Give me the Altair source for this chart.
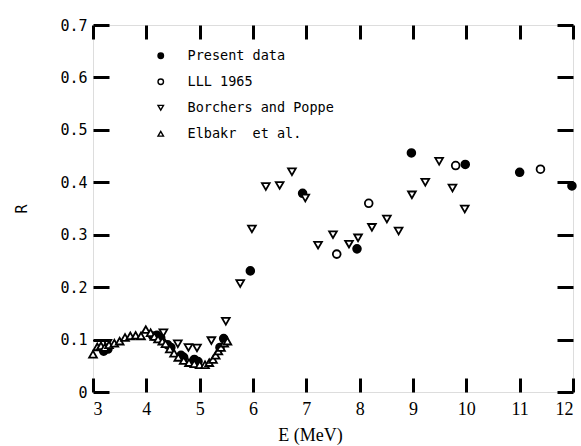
import altair as alt
import pandas as pd

# ---- data ----
present_E = [3.2, 3.28, 4.12, 4.2, 4.27, 4.4, 4.46, 4.65, 4.7, 4.9, 4.97, 5.38, 5.45,
             5.95, 6.93, 7.95, 8.97, 9.98, 11.0, 11.98]
present_R = [0.078, 0.082, 0.107, 0.108, 0.103, 0.09, 0.085, 0.07, 0.066, 0.062, 0.058, 0.085, 0.102,
             0.231, 0.379, 0.273, 0.456, 0.434, 0.419, 0.393]

lll_E = [7.57, 8.17, 9.80, 11.39]
lll_R = [0.263, 0.36, 0.432, 0.425]

borchers_E = [3.27, 4.32, 4.59, 4.79, 4.95, 5.22, 5.49, 5.76, 5.98, 6.24, 6.50, 6.73, 6.98,
              7.22, 7.50, 7.80, 7.97, 8.23, 8.51, 8.73, 8.98, 9.23, 9.49, 9.74, 9.97]
borchers_R = [0.093, 0.113, 0.092, 0.085, 0.084, 0.098, 0.135, 0.207, 0.311, 0.392, 0.394, 0.42, 0.37,
              0.28, 0.30, 0.282, 0.294, 0.314, 0.33, 0.307, 0.376, 0.40, 0.44, 0.389, 0.349]

elbakr_E = [3.0, 3.08, 3.15, 3.22, 3.3, 3.4, 3.5, 3.6, 3.7, 3.8, 3.9, 3.99, 4.08, 4.15, 4.22,
            4.3, 4.36, 4.44, 4.52, 4.6, 4.7, 4.8, 4.9, 5.0, 5.1, 5.18, 5.25, 5.3, 5.35, 5.4, 5.46, 5.52]
elbakr_R = [0.072, 0.086, 0.088, 0.085, 0.09, 0.093, 0.097, 0.104, 0.107, 0.108, 0.107, 0.119, 0.113,
            0.106, 0.101, 0.097, 0.092, 0.082, 0.074, 0.066, 0.06, 0.056, 0.054, 0.052, 0.052, 0.056,
            0.062, 0.07, 0.078, 0.085, 0.093, 0.097]

bracket_E = [3.0, 3.3]
bracket_R = [0.098, 0.098]

series_names = ["Present data", "LLL 1965", "Borchers and Poppe", "Elbakr\u00a0\u00a0et al."]
x_ticks = [3, 4, 5, 6, 7, 8, 9, 10, 11, 12]
y_ticks = [0, 0.1, 0.2, 0.3, 0.4, 0.5, 0.6, 0.7]

rows = []
for name, es, rs in zip(series_names, [present_E, lll_E, borchers_E, elbakr_E],
                        [present_R, lll_R, borchers_R, elbakr_R]):
    for e, r in zip(es, rs):
        rows.append({"E": e, "R": r, "series": name})
df = pd.DataFrame(rows)

W, H = 480, 367
TX, TY = 14, 16  # inward tick lengths
mono = "DejaVu Sans Mono"
narrow = "Liberation Sans Narrow"

xscale = alt.Scale(domain=[3, 12], nice=False, zero=False)
yscale = alt.Scale(domain=[0, 0.7], nice=False)

leg = alt.Legend(title=None, orient="none", legendX=61, legendY=24,
                 labelFont=mono, labelFontSize=13.5, labelColor="black",
                 symbolSize=30, symbolStrokeWidth=1.4, rowPadding=11,
                 labelOffset=20, symbolStrokeColor="black")

tick_common = dict(grid=False, domain=False, ticks=True, tickColor="#000000", tickWidth=3,
                   tickOpacity=1, zindex=5)

points = alt.Chart(df).mark_point(filled=False, strokeWidth=1.8, opacity=1, size=60).encode(
    x=alt.X("E:Q", scale=xscale, title="E (MeV)",
            axis=alt.Axis(values=x_ticks, orient="bottom", offset=-TX, tickSize=TX,
                          labelFont=narrow, labelFontSize=18, labelPadding=8,
                          titleFont=narrow, titleFontSize=18, titleFontWeight="normal",
                          titlePadding=8, titleX=217, labelColor="black", titleColor="black",
                          **tick_common)),
    y=alt.Y("R:Q", scale=yscale, title="R",
            axis=alt.Axis(values=y_ticks, orient="left", offset=-TY, tickSize=TY,
                          labelExpr="datum.value == 0 ? '0' : format(datum.value, '.1f')",
                          labelFont=mono, labelFontSize=15, labelPadding=6,
                          titleFont=mono, titleFontSize=15, titleFontWeight="normal",
                          titlePadding=30, labelColor="black", titleColor="black",
                          **tick_common)),
    shape=alt.Shape("series:N",
                    scale=alt.Scale(domain=series_names,
                                    range=["circle", "circle", "triangle-down", "triangle-up"]),
                    legend=leg),
    fill=alt.Fill("series:N",
                  scale=alt.Scale(domain=series_names, range=["black", "white", "white", "white"]),
                  legend=leg),
    stroke=alt.Stroke("series:N",
                      scale=alt.Scale(domain=series_names, range=["black", "black", "black", "black"]),
                      legend=leg),
)

bracket_df = pd.DataFrame({"E": bracket_E, "R": bracket_R})
bracket = alt.Chart(bracket_df).mark_line(color="black", strokeWidth=1.2).encode(
    x=alt.X("E:Q", scale=xscale,
            axis=alt.Axis(values=x_ticks, orient="top", offset=-TX, tickSize=TX,
                          labels=False, title=None, **tick_common)),
    y=alt.Y("R:Q", scale=yscale,
            axis=alt.Axis(values=y_ticks, orient="right", offset=-TY, tickSize=TY,
                          labels=False, title=None, **tick_common)),
)

chart = alt.layer(points, bracket).resolve_axis(x="independent", y="independent").properties(
    width=W, height=H,
    autosize=alt.AutoSizeParams(type="none"),
    padding={"left": 93, "top": 25, "right": 8, "bottom": 54},
).configure_view(stroke="black", strokeWidth=1.5).configure(background="white")

chart.save("out.html", embed_options={"renderer": "svg", "actions": False})
